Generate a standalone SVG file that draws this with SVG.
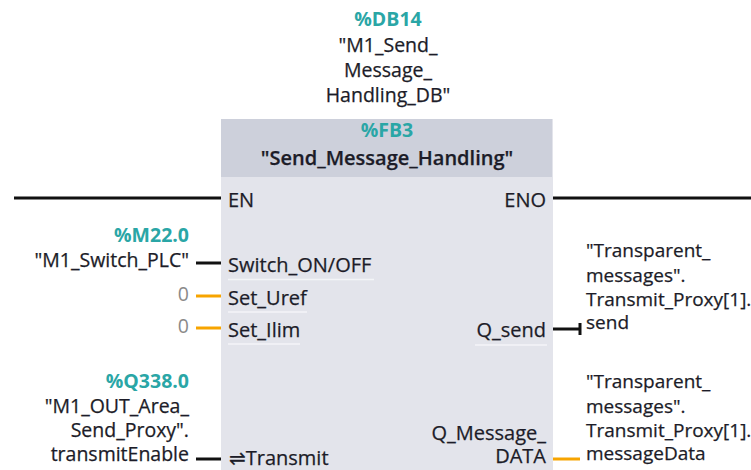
<svg xmlns="http://www.w3.org/2000/svg" width="751" height="470" viewBox="0 0 751 470">
<style>
text{font-family:"Open Sans","DejaVu Sans",sans-serif;font-size:19.5px;fill:#1c1c28;stroke:#1c1c28;stroke-width:0.25px}
.addr{fill:#2aa6a6;stroke:#2aa6a6;font-weight:bold;stroke-width:0}
.mid{text-anchor:middle}
.end{text-anchor:end}
.zero{fill:#8a8a8a;stroke:none}
.hdr{font-weight:600;font-size:20px}
.pin{font-size:20px}
.rt{font-size:19px}
.w{stroke:#111;stroke-width:3;fill:none}
.o{stroke:#f7a400;stroke-width:3;fill:none}
.sep{stroke:#f4f5f8;stroke-width:1.5}
</style>
<g id="instance_db">
<text class="addr mid" x="388" y="26">%DB14</text>
<text class="mid" x="388" y="52">"M1_Send_</text>
<text class="mid" x="388" y="77">Message_</text>
<text class="mid" x="388" y="102">Handling_DB"</text>
</g>
<g id="fb_block">
<rect x="221" y="119" width="332" height="360" fill="#e3e4eb"/>
<rect x="221" y="119" width="331" height="58" fill="#cdd0db"/>
<text class="addr mid" x="387" y="137">%FB3</text>
<text class="mid hdr" x="387" y="165">"Send_Message_Handling"</text>
<text class="pin" x="228" y="207">EN</text>
<text class="pin end" x="546" y="207">ENO</text>
<text class="pin" x="228" y="272">Switch_ON/OFF</text>
<line class="sep" x1="228" y1="279.5" x2="374" y2="279.5"/>
<text class="pin" x="228" y="305">Set_Uref</text>
<line class="sep" x1="228" y1="312" x2="307" y2="312"/>
<text class="pin" x="228" y="337">Set_Ilim</text>
<line class="sep" x1="228" y1="344" x2="300" y2="344"/>
<text class="pin end" x="546" y="337">Q_send</text>
<line class="sep" x1="475" y1="345" x2="547" y2="345"/>
<text class="pin" x="229" y="465">⇌Transmit</text>
<text class="pin end" x="546" y="440">Q_Message_</text>
<text class="pin end" x="546" y="463">DATA</text>
</g>
<g id="in_switch">
<text class="addr end" x="189" y="242">%M22.0</text>
<text class="end" x="189" y="267">"M1_Switch_PLC"</text>
</g>
<g id="in_uref"><text class="zero end" x="189" y="301">0</text></g>
<g id="in_ilim"><text class="zero end" x="189" y="333">0</text></g>
<g id="in_transmit">
<text class="addr end" x="189" y="388">%Q338.0</text>
<text class="end" x="189" y="413">"M1_OUT_Area_</text>
<text class="end" x="189" y="437">Send_Proxy".</text>
<text class="end" x="189" y="461">transmitEnable</text>
</g>
<g id="out_send">
<text class="rt" x="586" y="257">"Transparent_</text>
<text class="rt" x="586" y="282">messages".</text>
<text class="rt" x="586" y="306">Transmit_Proxy[1].</text>
<text class="rt" x="586" y="329">send</text>
</g>
<g id="out_data">
<text class="rt" x="586" y="388">"Transparent_</text>
<text class="rt" x="586" y="413">messages".</text>
<text class="rt" x="586" y="437">Transmit_Proxy[1].</text>
<text class="rt" x="586" y="460">messageData</text>
</g>
<g id="connectors">
<line class="w" x1="14" y1="198" x2="221" y2="198"/>
<line class="w" x1="553" y1="198" x2="751" y2="198"/>
<line class="w" x1="196" y1="263" x2="221" y2="263"/>
<line class="o" x1="196" y1="296" x2="221" y2="296"/>
<line class="o" x1="196" y1="328" x2="221" y2="328"/>
<line class="w" x1="553" y1="329" x2="580" y2="329"/>
<line class="w" x1="580" y1="323" x2="580" y2="335"/>
<line class="w" x1="196" y1="459" x2="221" y2="459"/>
<line class="o" x1="553" y1="459" x2="580" y2="459"/>
</g>
</svg>
